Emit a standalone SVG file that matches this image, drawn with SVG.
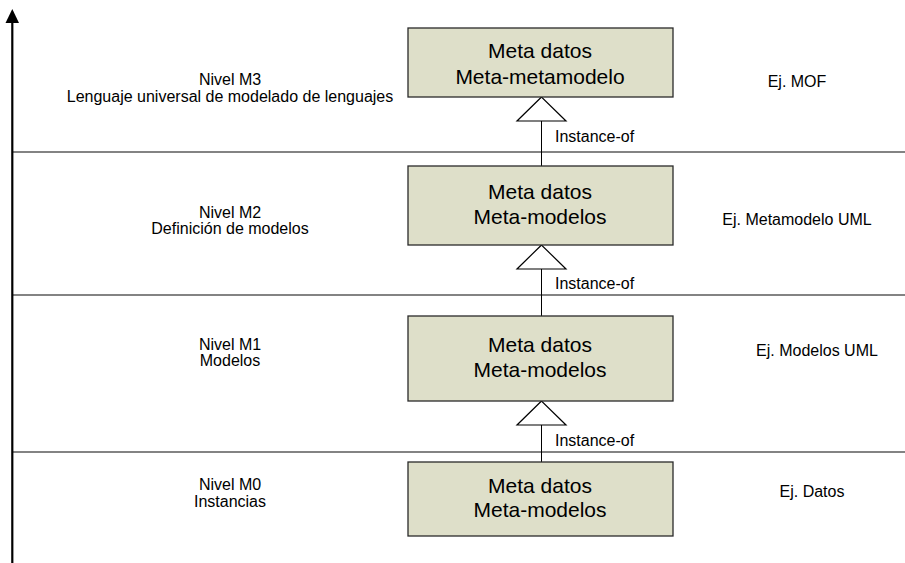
<svg xmlns="http://www.w3.org/2000/svg" width="905" height="563" viewBox="0 0 905 563">
  <style>
    text { font-family: "Liberation Sans", Arial, sans-serif; fill: #000; }
    .box { fill: #dedfc9; stroke: #2a2a2a; stroke-width: 1.3; }
    .boxtxt { font-size: 21px; text-anchor: middle; }
    .lbl { font-size: 16px; text-anchor: middle; }
    .rel { font-size: 16px; }
    .sep { stroke: #5a5a5a; stroke-width: 1.3; fill: none; }
    .link { stroke: #000; stroke-width: 1; fill: none; }
    .tri { fill: #fff; stroke: #000; stroke-width: 1.2; stroke-linejoin: miter; }
  </style>
  <defs>
    <marker id="axisHead" viewBox="0 0 14 14" refX="7" refY="0" markerWidth="14" markerHeight="14" markerUnits="userSpaceOnUse" orient="auto-start-reverse">
      <path d="M0,14 L7,0 L14,14 Z" fill="#000"/>
    </marker>
    <polygon id="gen" class="tri" points="0,0 -24.5,24 24.5,24"/>
  </defs>

  <rect width="905" height="563" fill="#fff"/>

  <!-- level separators -->
  <g id="separators">
    <line class="sep" x1="12" y1="152" x2="905" y2="152"/>
    <line class="sep" x1="12" y1="295" x2="905" y2="295"/>
    <line class="sep" x1="12" y1="452" x2="905" y2="452"/>
  </g>

  <!-- vertical axis -->
  <g id="axis">
    <line x1="12.3" y1="563" x2="12.3" y2="20" stroke="#000" stroke-width="2.2"/>
    <path d="M5.5,23 L12.3,9 L19,23 Z" fill="#000"/>
  </g>

  <!-- level descriptions -->
  <g id="level-m3">
    <text class="lbl" x="230" y="85">Nivel M3</text>
    <text class="lbl" x="230" y="102">Lenguaje universal de modelado de lenguajes</text>
    <text class="lbl" x="797" y="87">Ej. MOF</text>
  </g>
  <g id="level-m2">
    <text class="lbl" x="230" y="218">Nivel M2</text>
    <text class="lbl" x="230" y="234">Definición de modelos</text>
    <text class="lbl" x="797" y="225">Ej. Metamodelo UML</text>
  </g>
  <g id="level-m1">
    <text class="lbl" x="230" y="350">Nivel M1</text>
    <text class="lbl" x="230" y="366">Modelos</text>
    <text class="lbl" x="817" y="356">Ej. Modelos UML</text>
  </g>
  <g id="level-m0">
    <text class="lbl" x="230" y="490">Nivel M0</text>
    <text class="lbl" x="230" y="507">Instancias</text>
    <text class="lbl" x="812" y="497">Ej. Datos</text>
  </g>

  <!-- connectors: instance-of generalisations -->
  <g id="connectors">
    <line class="link" x1="541.5" y1="121" x2="541.5" y2="166"/>
    <use href="#gen" x="541.5" y="97"/>
    <text class="rel" x="555" y="142">Instance-of</text>

    <line class="link" x1="541.5" y1="269" x2="541.5" y2="316"/>
    <use href="#gen" x="541.5" y="245"/>
    <text class="rel" x="555" y="289">Instance-of</text>

    <line class="link" x1="541.5" y1="425" x2="541.5" y2="462"/>
    <use href="#gen" x="541.5" y="401"/>
    <text class="rel" x="555" y="446">Instance-of</text>
  </g>

  <!-- nodes -->
  <g id="node-m3">
    <rect class="box" x="408" y="28" width="265" height="69"/>
    <text class="boxtxt" x="540" y="58">Meta datos</text>
    <text class="boxtxt" x="540" y="84">Meta-metamodelo</text>
  </g>
  <g id="node-m2">
    <rect class="box" x="408" y="166" width="265" height="79"/>
    <text class="boxtxt" x="540" y="199">Meta datos</text>
    <text class="boxtxt" x="540" y="224">Meta-modelos</text>
  </g>
  <g id="node-m1">
    <rect class="box" x="408" y="316" width="265" height="85"/>
    <text class="boxtxt" x="540" y="352">Meta datos</text>
    <text class="boxtxt" x="540" y="377">Meta-modelos</text>
  </g>
  <g id="node-m0">
    <rect class="box" x="408" y="462" width="265" height="74"/>
    <text class="boxtxt" x="540" y="493">Meta datos</text>
    <text class="boxtxt" x="540" y="517">Meta-modelos</text>
  </g>
</svg>
